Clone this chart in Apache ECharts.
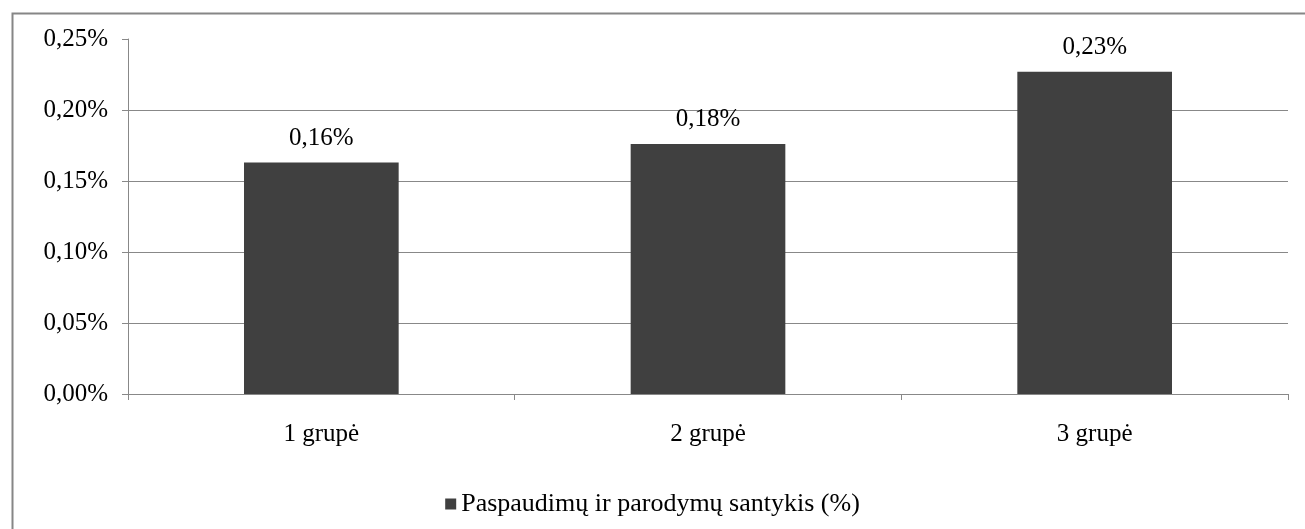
<!DOCTYPE html>
<html><head><meta charset="utf-8">
<script src="https://cdn.jsdelivr.net/npm/echarts@6/dist/echarts.min.js"></script>
<style>html,body{margin:0;padding:0;background:#fff}#c{width:1305px;height:529px}</style>
</head><body><div id="c"></div>
<script>
const categories = ['1 grupė', '2 grupė', '3 grupė'];
const values = [0.163, 0.176, 0.227];
const seriesName = 'Paspaudimų ir parodymų santykis (%)';
const yTicks = { min: 0, max: 0.25, interval: 0.05 };

const fmt = v => v.toFixed(2).replace('.', ',') + '%';
const font = '"Liberation Serif", "DejaVu Serif", serif';
const chart = echarts.init(document.getElementById('c'));
chart.setOption({
  animation: false,
  textStyle: { fontFamily: font },
  graphic: [{ type: 'rect', left: 10, top: 11, shape: { width: 1400, height: 600 },
    style: { fill: 'none', stroke: '#868686', lineWidth: 2 }, silent: true }],
  grid: { left: 128, right: 17, top: 39, bottom: 135 },
  legend: { top: 486, left: 'center', itemWidth: 11, itemHeight: 11, itemGap: 5,
    icon: 'rect', textStyle: { fontFamily: font, fontSize: 26, color: '#000' },
    data: [seriesName] },
  xAxis: { type: 'category', data: categories,
    axisLine: { lineStyle: { color: '#888', width: 1 } },
    axisTick: { show: true, length: 6, lineStyle: { color: '#888' } },
    axisLabel: { fontFamily: font, fontSize: 25, color: '#000', margin: 28 } },
  yAxis: { type: 'value', min: yTicks.min, max: yTicks.max, interval: yTicks.interval,
    axisLine: { show: true, lineStyle: { color: '#888' } },
    axisTick: { show: true, length: 6, lineStyle: { color: '#888' } },
    splitLine: { show: true, showMaxLine: false, lineStyle: { color: '#888' } },
    axisLabel: { fontFamily: font, fontSize: 25, color: '#000', margin: 20, formatter: v => fmt(v) } },
  series: [{ name: seriesName, type: 'bar', data: values, barWidth: '40%',
    itemStyle: { color: '#404040' },
    label: { show: true, position: 'top', distance: 12, fontFamily: font, fontSize: 25, color: '#000',
      formatter: p => fmt(p.value) } }]
});
</script></body></html>
